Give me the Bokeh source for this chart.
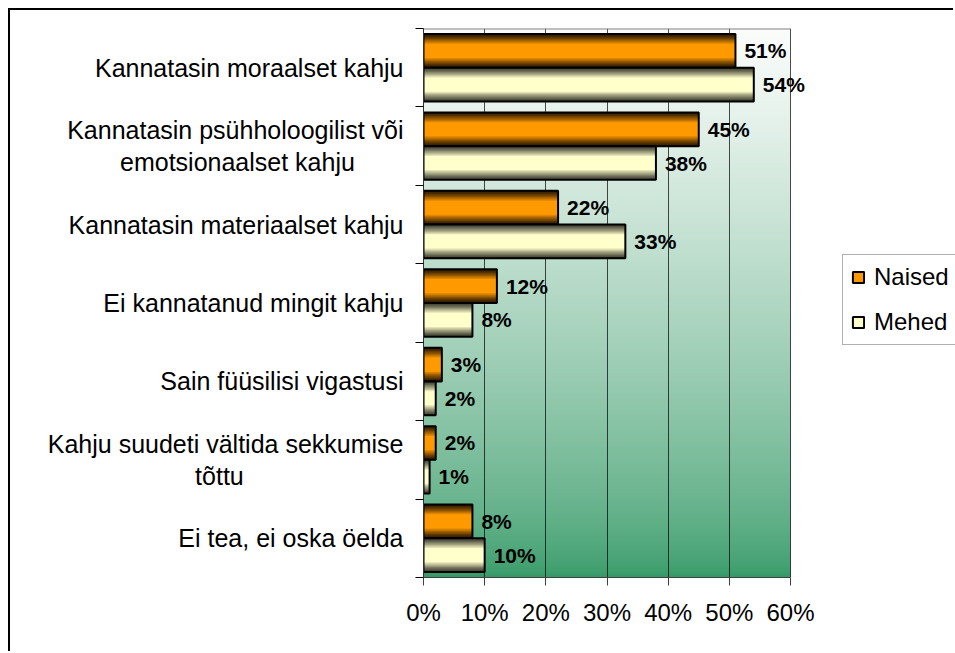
import numpy as np
from bokeh.plotting import figure
from bokeh.models import (FixedTicker, PrintfTickFormatter, Legend, LegendItem, Range1d,
                          LabelSet, ColumnDataSource)
from bokeh.core.properties import value
from bokeh.embed import file_html
from bokeh.resources import INLINE

# ---------------- data ----------------
categories = [
    "Kannatasin moraalset kahju",
    "Kannatasin psühholoogilist või\nemotsionaalset kahju",
    "Kannatasin materiaalset kahju",
    "Ei kannatanud mingit kahju",
    "Sain füüsilisi vigastusi",
    "Kahju suudeti vältida sekkumise\ntõttu",
    "Ei tea, ei oska öelda",
]
naised = [51, 45, 22, 12, 3, 2, 8]
mehed = [54, 38, 33, 8, 2, 1, 10]
series_names = ["Naised", "Mehed"]
x_ticks = [0, 10, 20, 30, 40, 50, 60]

FONT = "Liberation Sans"
n = len(categories)
centers = [n - 1 - i for i in range(n)]


def center_second_line(label, pad):
    # axis labels are right aligned; pad second line so it looks centred
    if "\n" not in label:
        return label
    a, b = label.split("\n")
    return a + "\n" + b + "\u00a0" * pad


pads = [0, 7, 0, 0, 0, 23, 0]
axis_labels = [center_second_line(c, pd) for c, pd in zip(categories, pads)]

# layout (pixels)
W, Hh = 945, 643
left_b, top_b, bottom_b = 413, 18, 76
plot_w = 367                      # width of the 0..60 % plot area
frame_w = W - left_b              # frame runs to the right edge so labels/legend are not clipped
x_max = x_ticks[-1]
x_end = x_max * frame_w / plot_w

p = figure(
    width=W, height=Hh,
    output_backend="svg", toolbar_location=None,
    x_range=Range1d(0, x_end), y_range=Range1d(-0.5, n - 0.5),
    min_border_left=left_b, min_border_right=0, min_border_top=top_b, min_border_bottom=bottom_b,
    background_fill_color="white", border_fill_color="white",
    outline_line_color=None,
    styles={"margin-left": "8px", "margin-top": "8px",
            "border-left": "2px solid black", "border-top": "2px solid black"},
)

# gradient background of plot area (white -> green)
H = 256
t = np.linspace(0.0, 1.0, H) ** 0.6
green = np.array([51, 153, 102], dtype=float)
white = np.array([252, 253, 252], dtype=float)
grey = np.array([-8, -4, -6], dtype=float)
cols = green[None, :] + (white - green)[None, :] * t[:, None] + grey[None, :] * np.sin(np.pi * t)[:, None]
cols = np.clip(cols, 0, 255)
img = np.empty((H, 1), dtype=np.uint32)
view = img.view(dtype=np.uint8).reshape((H, 1, 4))
view[:, 0, 0] = cols[:, 0].astype(np.uint8)
view[:, 0, 1] = cols[:, 1].astype(np.uint8)
view[:, 0, 2] = cols[:, 2].astype(np.uint8)
view[:, 0, 3] = 255
p.image_rgba(image=[img], x=0, y=-0.5, dw=x_max, dh=n, level="image")

# plot-area top border
p.segment(x0=[0], x1=[x_max], y0=[n - 0.5], y1=[n - 0.5], line_color="#808080", line_width=2)

# bars with shaded (3D-like) look
bar_h = 0.43
series = [(naised, +bar_h / 2, (45, 27, 0), (255, 153, 0)),
          (mehed, -bar_h / 2, (66, 66, 52), (255, 255, 204))]
NL = 9
legend_items = []
for (vals, off, dark, bright), name in zip(series, series_names):
    ys = [c + off for c in centers]
    layer = None
    for k in range(NL):
        tt = (k / (NL - 1)) ** 1.2
        col = tuple(int(dark[j] + (bright[j] - dark[j]) * tt) for j in range(3))
        hf = 1.0 - 0.58 * k / (NL - 1)
        layer = p.hbar(y=ys, right=vals, left=0, height=bar_h * hf,
                       fill_color="#%02x%02x%02x" % col, line_color=None)
    outline = p.hbar(y=ys, right=vals, left=0, height=bar_h,
                     fill_color=None, line_color="black", line_width=2)
    src = ColumnDataSource(dict(x=vals, y=ys, t=[f"{v}%" for v in vals]))
    p.add_layout(LabelSet(x="x", y="y", text="t", source=src, x_offset=9,
                          text_baseline="middle", text_align="left",
                          text_font=value(FONT), text_font_style="bold",
                          text_font_size="21px", text_color="black"))
    legend_items.append(LegendItem(label=name, renderers=[layer, outline]))

# axes
yax = p.yaxis[0]
yax.ticker = FixedTicker(ticks=centers, minor_ticks=[c + 0.5 for c in range(-1, n)])
yax.major_label_overrides = {c: lab for c, lab in zip(centers, axis_labels)}
yax.major_tick_line_color = None
yax.major_tick_out = 0
yax.major_tick_in = 0
yax.minor_tick_line_color = "black"
yax.minor_tick_out = 8
yax.minor_tick_in = 0
yax.axis_line_color = "#303030"
yax.major_label_standoff = 12
yax.major_label_text_font = FONT
yax.major_label_text_font_size = "25px"
yax.major_label_text_color = "black"
yax.major_label_text_line_height = 1.15

xax = p.xaxis[0]
xax.ticker = FixedTicker(ticks=x_ticks, minor_ticks=[])
xax.bounds = (0, x_max)
xax.formatter = PrintfTickFormatter(format="%d%%")
xax.major_tick_out = 8
xax.major_tick_in = 0
xax.major_tick_line_color = "#404040"
xax.axis_line_color = "#404040"
xax.minor_tick_line_color = None
xax.major_label_standoff = 13
xax.major_label_text_font = FONT
xax.major_label_text_font_size = "24px"
xax.major_label_text_color = "black"

p.xgrid.ticker = FixedTicker(ticks=x_ticks)
p.xgrid.grid_line_color = "black"
p.xgrid.grid_line_alpha = 0.7
p.xgrid.grid_line_width = 1
p.ygrid.visible = False

legend = Legend(
    items=legend_items, location=(419, 232), margin=0,
    padding=8, spacing=17, label_height=26, glyph_height=14, glyph_width=14,
    label_standoff=9, label_text_font=FONT, label_text_font_size="24px",
    label_text_color="black",
    border_line_color="#606060", border_line_width=1,
    background_fill_color="white", background_fill_alpha=1.0,
)
p.add_layout(legend)

open("out.html", "w").write(file_html(p, INLINE))
